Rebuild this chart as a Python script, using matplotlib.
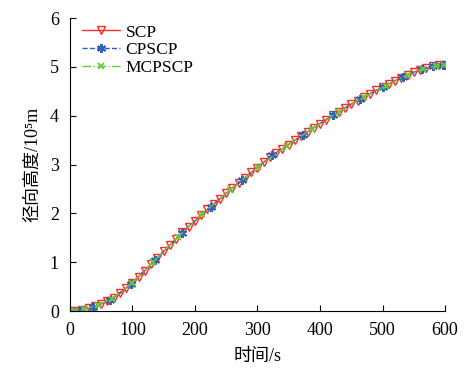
import matplotlib
matplotlib.use('Agg')
import matplotlib.pyplot as plt

# SCP: dense uniform grid (s) and radial height (1e5 m)
scp_t = [0, 10, 20, 30, 40, 50, 60, 70, 80, 90,
         100, 110, 120, 130, 140, 150, 160, 170, 180, 190,
         200, 210, 220, 230, 240, 250, 260, 270, 280, 290,
         300, 310, 320, 330, 340, 350, 360, 370, 380, 390,
         400, 410, 420, 430, 440, 450, 460, 470, 480, 490,
         500, 510, 520, 530, 540, 550, 560, 570, 580, 590, 600]
scp_h = [0.00, 0.01, 0.03, 0.065, 0.10, 0.15, 0.20, 0.27, 0.36, 0.47,
         0.58, 0.70, 0.83, 0.96, 1.09, 1.22, 1.35, 1.48, 1.61, 1.73,
         1.85, 1.97, 2.08, 2.19, 2.30, 2.41, 2.52, 2.63, 2.73, 2.84,
         2.94, 3.05, 3.15, 3.24, 3.32, 3.41, 3.50, 3.58, 3.67, 3.75,
         3.84, 3.92, 4.01, 4.08, 4.16, 4.24, 4.31, 4.38, 4.45, 4.52,
         4.58, 4.65, 4.72, 4.78, 4.84, 4.89, 4.94, 4.98, 5.01, 5.03, 5.04]

# CPSCP nodes
cp_t = [0, 4, 16, 37, 64, 97, 136, 179, 225, 275,
        324, 372, 420, 464, 501, 533, 563, 581, 597, 600]
cp_h = [0.00, 0.003, 0.02, 0.09, 0.22, 0.55, 1.04, 1.60, 2.14, 2.68,
        3.19, 3.60, 4.01, 4.34, 4.59, 4.80, 4.95, 5.02, 5.04, 5.04]

# MCPSCP nodes
mcp_t = [0, 8, 22, 45, 67, 99, 133, 173, 211, 256,
         301, 348, 387, 430, 470, 505, 540, 565, 585, 598]
mcp_h = [0.00, 0.008, 0.035, 0.125, 0.245, 0.57, 1.00, 1.52, 1.98, 2.48,
         2.95, 3.39, 3.73, 4.08, 4.38, 4.61, 4.84, 4.96, 5.02, 5.04]

plt.rcParams['font.family'] = ['Liberation Serif', 'Noto Sans CJK SC']

fig = plt.figure(figsize=(4.69, 3.69), dpi=100)
ax = fig.add_axes([0.149, 0.157, 0.800, 0.794])

ax.plot(scp_t, scp_h, '-', color='#ff2a2a', lw=1.0, marker='v',
        ms=6, mfc='none', mec='#ff2a2a', mew=1.0, label='SCP')
ax.plot(cp_t, cp_h, '--', color='#2f5fc0', lw=1.0, marker=(6, 2, 0),
        ms=6.5, mew=1.4, label='CPSCP')
ax.plot(mcp_t, mcp_h, '-.', color='#66cc33', lw=1.0, marker='x',
        ms=5, mew=1.3, label='MCPSCP')

ax.set_xlim(0, 600)
ax.set_ylim(0, 6)
ax.set_xticks(range(0, 601, 100))
ax.set_yticks(range(0, 7))
ax.tick_params(direction='in', labelsize=13, length=4, pad=8)
ax.spines['top'].set_visible(False)
ax.spines['right'].set_visible(False)

ax.set_xlabel('时间/s', fontsize=13, labelpad=6)
ax.set_ylabel('径向高度/10⁵m', fontsize=13, labelpad=6)

ax.legend(loc='upper left', bbox_to_anchor=(0.0, 1.02), frameon=False,
          fontsize=12.5, handlelength=2.2, handletextpad=0.3,
          labelspacing=0.1, borderaxespad=0.3)

fig.savefig('out.png', dpi=100)
